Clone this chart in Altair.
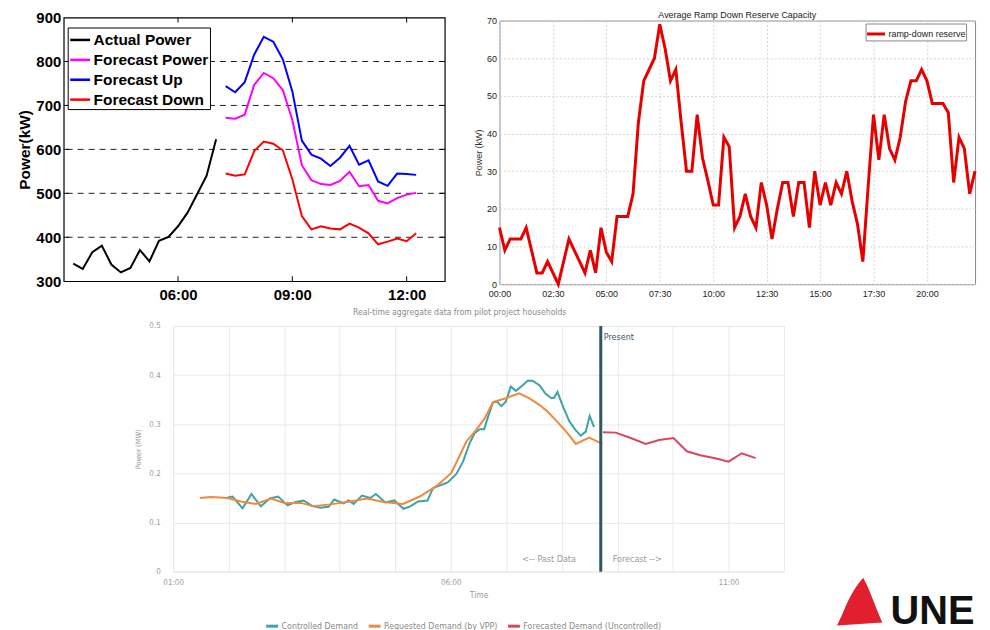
import altair as alt
import pandas as pd

TIME_EXPR = "(datum.value < 10 ? '0' : '') + floor(datum.value) + ':' + (datum.value % 1 == 0 ? '00' : '30')"
ARIAL = "Liberation Sans, Arial, sans-serif"
NARROW = "Liberation Sans Narrow, DejaVu Sans Condensed, sans-serif"


def hours(labels):
    out = []
    for s in labels:
        h, m = s.split(":")
        out.append(int(h) + int(m) / 60.0)
    return out


actual_times = ["03:15", "03:30", "03:45", "04:00", "04:15", "04:30", "04:45", "05:00",
                "05:15", "05:30", "05:45", "06:00", "06:15", "06:30", "06:45", "07:00"]
actual_kw = [340, 328, 366, 381, 338, 320, 330, 371, 345, 392, 401, 425, 456, 498, 540, 623]
forecast_times = ["07:15", "07:30", "07:45", "08:00", "08:15", "08:30", "08:45", "09:00",
                  "09:15", "09:30", "09:45", "10:00", "10:15", "10:30", "10:45", "11:00",
                  "11:15", "11:30", "11:45", "12:00", "12:15"]
forecast_kw = [672, 670, 679, 747, 774, 762, 735, 667, 564, 530, 521, 519, 528, 549, 516, 519,
               483, 477, 489, 497, 501]
forecast_up_kw = [744, 730, 753, 816, 856, 845, 805, 732, 620, 588, 579, 562, 581, 608, 565, 575,
                  527, 517, 545, 544, 542]
forecast_down_kw = [545, 540, 543, 596, 618, 613, 598, 532, 448, 418, 425, 420, 418, 431, 422, 409,
                    384, 390, 397, 391, 409]
a_series = ["Actual Power", "Forecast Power", "Forecast Up", "Forecast Down"]
a_colors = ["#000000", "#ff00ff", "#0000ff", "#ff0000"]
a_x_ticks = [6, 9, 12]
a_y_ticks = [300, 400, 500, 600, 700, 800, 900]
a_grid = [400, 500, 600, 700, 800]

b_title = "Average Ramp Down Reserve Capacity"
ramp_step_h = 0.25
ramp_kw = [15, 9, 12, 12, 12, 15, 9, 3, 3, 6,
           3, 0, 6, 12, 9, 6, 3, 9, 3, 15,
           8.5, 6, 18, 18, 18, 24, 43, 54, 57, 60,
           69, 62.5, 54, 57, 43, 30, 30, 45, 33.5, 27.5,
           21, 21, 39, 36.5, 15, 18, 24, 18, 15, 27,
           21, 12, 20, 27, 27, 18, 27, 27, 15, 30,
           21, 27, 21, 27, 24, 30, 22, 16, 6, 26,
           45, 33, 45, 36, 33, 39, 48.5, 54, 54, 57,
           54, 48, 48, 48, 45.5, 27, 39, 36, 24, 30]
b_x_ticks = [0, 2.5, 5, 7.5, 10, 12.5, 15, 17.5, 20]
b_y_ticks = [0, 10, 20, 30, 40, 50, 60, 70]

controlled_h = [1.98, 2.07, 2.25, 2.41, 2.58, 2.74, 2.89, 3.06, 3.21, 3.35, 3.50, 3.65, 3.80, 3.90,
                4.07, 4.16, 4.25, 4.40, 4.55, 4.65, 4.82, 4.98, 5.15, 5.27, 5.41, 5.58, 5.68, 5.86,
                5.95, 6.10, 6.22, 6.34, 6.43, 6.52, 6.60, 6.67, 6.76, 6.83, 6.91, 6.99, 7.08, 7.17,
                7.27, 7.39, 7.48, 7.60, 7.70, 7.81, 7.86, 7.92, 8.01, 8.13, 8.24, 8.34, 8.43, 8.50, 8.58]
controlled_mw = [0.151, 0.153, 0.129, 0.158, 0.133, 0.149, 0.153, 0.135, 0.142, 0.145, 0.134, 0.130,
                 0.132, 0.147, 0.139, 0.145, 0.138, 0.155, 0.150, 0.158, 0.141, 0.145, 0.128, 0.133,
                 0.143, 0.145, 0.170, 0.178, 0.182, 0.199, 0.224, 0.262, 0.282, 0.290, 0.290, 0.315,
                 0.345, 0.346, 0.337, 0.346, 0.377, 0.368, 0.377, 0.389, 0.388, 0.379, 0.363, 0.353,
                 0.354, 0.366, 0.339, 0.307, 0.289, 0.277, 0.285, 0.317, 0.294]
requested_h = [1.48, 1.68, 1.98, 2.22, 2.49, 2.76, 3.00, 3.30, 3.53, 3.83, 4.19, 4.49, 4.79, 5.14,
               5.44, 5.74, 6.01, 6.28, 6.46, 6.61, 6.76, 6.99, 7.23, 7.41, 7.60, 7.74, 7.92, 8.10,
               8.25, 8.49, 8.73]
requested_mw = [0.150, 0.152, 0.150, 0.143, 0.138, 0.149, 0.140, 0.140, 0.133, 0.137, 0.143, 0.149,
                0.142, 0.138, 0.153, 0.174, 0.201, 0.265, 0.289, 0.312, 0.345, 0.353, 0.363, 0.353,
                0.339, 0.326, 0.305, 0.282, 0.260, 0.273, 0.260]
forecasted_h = [8.74, 8.97, 9.24, 9.51, 9.75, 10.01, 10.25, 10.49, 10.76, 11.00, 11.24, 11.49]
forecasted_mw = [0.284, 0.283, 0.272, 0.260, 0.268, 0.272, 0.245, 0.237, 0.231, 0.224, 0.241, 0.231]
present_h = 8.70
c_series = ["Controlled Demand", "Requested Demand (by VPP)", "Forecasted Demand (Uncontrolled)"]
c_colors = ["#3da3a6", "#ee8a3d", "#d8475f"]
c_grid_x = [1 + 0.5 * i for i in range(23)]
c_y_ticks = [0, 0.1, 0.2, 0.3, 0.4, 0.5]

# =============== chart A ===============
a_df = pd.concat([
    pd.DataFrame({"hour": hours(actual_times), "kw": actual_kw, "sA": a_series[0]}),
    pd.DataFrame({"hour": hours(forecast_times), "kw": forecast_kw, "sA": a_series[1]}),
    pd.DataFrame({"hour": hours(forecast_times), "kw": forecast_up_kw, "sA": a_series[2]}),
    pd.DataFrame({"hour": hours(forecast_times), "kw": forecast_down_kw, "sA": a_series[3]}),
])
WA, HA = 383, 265
xA = alt.X("hour:Q", scale=alt.Scale(domain=[3, 13], nice=False, zero=False),
           axis=alt.Axis(values=a_x_ticks, labelExpr=TIME_EXPR, title=None, ticks=False, domain=False,
                         grid=False, labelFlush=False, labelFont=ARIAL, labelFontSize=15,
                         labelFontWeight="bold", labelColor="black", labelPadding=6))
yA = alt.Y("kw:Q", scale=alt.Scale(domain=[300, 900], nice=False, zero=False),
           axis=alt.Axis(values=a_y_ticks, title="Power(kW)", ticks=False, domain=False, grid=False,
                         labelFont=ARIAL, labelFontSize=15, labelFontWeight="bold", labelColor="black",
                         labelPadding=3, titleFont=ARIAL, titleFontSize=15.5, titleFontWeight="bold",
                         titleColor="black", titlePadding=3))
a_grid_layer = alt.Chart(pd.DataFrame({"kw": a_grid})).mark_rule(
    color="#222222", strokeWidth=1, strokeDash=[6, 5]).encode(y="kw:Q")
a_lines = alt.Chart(a_df).mark_line(strokeWidth=2).encode(
    x=xA, y=yA,
    color=alt.Color("sA:N", scale=alt.Scale(domain=a_series, range=a_colors),
                    legend=alt.Legend(title=None, orient="none", legendX=4, legendY=10,
                                      fillColor="white", strokeColor="black", padding=1,
                                      symbolType="stroke", symbolSize=400, symbolStrokeWidth=2.5,
                                      labelFont=ARIAL, labelFontSize=15.5, labelFontWeight="bold",
                                      labelColor="black", labelOffset=2, rowPadding=0)))
ax_df = pd.DataFrame({"hour": a_x_ticks})
ay_df = pd.DataFrame({"kw": a_grid})
a_tick_top = alt.Chart(ax_df).mark_rule(color="black").encode(x="hour:Q", y=alt.value(0), y2=alt.value(5))
a_tick_bot = alt.Chart(ax_df).mark_rule(color="black").encode(x="hour:Q", y=alt.value(HA), y2=alt.value(HA - 5))
a_tick_left = alt.Chart(ay_df).mark_rule(color="black").encode(y="kw:Q", x=alt.value(0), x2=alt.value(5))
a_tick_right = alt.Chart(ay_df).mark_rule(color="black").encode(y="kw:Q", x=alt.value(WA), x2=alt.value(WA - 5))
chart_a = alt.layer(a_grid_layer, a_tick_top, a_tick_bot, a_tick_left, a_tick_right, a_lines).properties(
    width=WA, height=HA, view=alt.ViewBackground(stroke="black", strokeWidth=1.2))

# =============== chart B ===============
b_df = pd.DataFrame({"hour": [i * ramp_step_h for i in range(len(ramp_kw))], "kw": ramp_kw,
                     "sB": "ramp-down reserve"})
WB, HB = 478, 265
chart_b = alt.Chart(b_df).mark_line(strokeWidth=3).encode(
    x=alt.X("hour:Q", scale=alt.Scale(domain=[0, 22.25], nice=False, zero=False),
            axis=alt.Axis(values=b_x_ticks, labelExpr=TIME_EXPR, title=None, ticks=False, domain=False,
                          grid=True, gridColor="#d4d4d4", gridDash=[2, 2], labelFlush=False,
                          labelFont=ARIAL, labelFontSize=9, labelColor="#222222", labelPadding=5)),
    y=alt.Y("kw:Q", scale=alt.Scale(domain=[0, 70], nice=False),
            axis=alt.Axis(values=b_y_ticks, title="Power (kW)", ticks=False, domain=False, grid=True,
                          gridColor="#d4d4d4", gridDash=[2, 2], labelFont=ARIAL, labelFontSize=9,
                          labelColor="#222222", labelPadding=3, titleFont=ARIAL, titleFontSize=9,
                          titleFontWeight="normal", titleColor="#333333", titlePadding=3)),
    color=alt.Color("sB:N", scale=alt.Scale(domain=["ramp-down reserve"], range=["#e60000"]),
                    legend=alt.Legend(title=None, orient="none", legendX=368, legendY=3,
                                      fillColor="white", strokeColor="#888888", padding=0,
                                      symbolType="stroke", symbolSize=324, symbolStrokeWidth=3,
                                      labelFont=ARIAL, labelFontSize=9, labelColor="#222222",
                                      labelOffset=2)),
).properties(width=WB, height=HB, view=alt.ViewBackground(stroke="#8a8a8a", strokeWidth=1))

# title strip above chart B (text drawn as a mark so it can sit higher than chart A's top)
b_title_strip = alt.Chart(pd.DataFrame({"t": [b_title]})).mark_text(
    font=ARIAL, fontSize=9, color="#222222", baseline="middle").encode(
    text="t:N", x=alt.value(WB / 2), y=alt.value(-3)).properties(
    width=WB, height=1, view=alt.ViewBackground(stroke="transparent"))
b_block = alt.vconcat(b_title_strip, chart_b, spacing=-7).resolve_scale(
    color="independent").resolve_legend(color="independent")

# =============== chart C ===============
c_df = pd.concat([
    pd.DataFrame({"hour": controlled_h, "mw": controlled_mw, "sC": c_series[0]}),
    pd.DataFrame({"hour": requested_h, "mw": requested_mw, "sC": c_series[1]}),
    pd.DataFrame({"hour": forecasted_h, "mw": forecasted_mw, "sC": c_series[2]}),
])
WC, HC = 614, 247
C_LABEL_EXPR = "((datum.value - 1) % 2.5 == 0) ? (" + TIME_EXPR + ") : ''"
xC = alt.X("hour:Q", scale=alt.Scale(domain=[1, 12], nice=False, zero=False),
           axis=alt.Axis(values=c_grid_x, labelExpr=C_LABEL_EXPR, title="Time", ticks=False, domain=False,
                         grid=True, gridColor="#e9e9e9", labelFlush=False, labelFont=NARROW,
                         labelFontSize=8, labelColor="#9a9a9a", labelPadding=7, titleFont=NARROW,
                         titleFontSize=8.5, titleFontWeight="normal", titleColor="#9a9a9a",
                         titlePadding=4))
yC = alt.Y("mw:Q", scale=alt.Scale(domain=[0, 0.5], nice=False),
           axis=alt.Axis(values=c_y_ticks, labelExpr="datum.value == 0 ? '0' : format(datum.value, '.1f')",
                         title="Power (MW)", ticks=False, domain=False, grid=True, gridColor="#e9e9e9",
                         labelFont=NARROW, labelFontSize=8, labelColor="#9a9a9a", labelPadding=13,
                         titleFont=NARROW, titleFontSize=7.5, titleFontWeight="normal",
                         titleColor="#9a9a9a", titlePadding=6))
c_lines = alt.Chart(c_df).mark_line(strokeWidth=2).encode(
    x=xC, y=yC,
    color=alt.Color("sC:N", scale=alt.Scale(domain=c_series, range=c_colors),
                    legend=alt.Legend(title=None, orient="none", legendX=92, legendY=294,
                                      direction="horizontal", symbolType="stroke", symbolSize=144,
                                      symbolStrokeWidth=3, labelFont=NARROW, labelFontSize=8.8,
                                      labelColor="#8a8a8a", labelOffset=2, columnPadding=4)))
p_df = pd.DataFrame({"hour": [present_h], "mw_top": [0.478], "mw_low": [0.026]})
c_present = alt.Chart(p_df).mark_rule(color="#2c5866", strokeWidth=3).encode(x="hour:Q")
c_present_txt = alt.Chart(p_df).mark_text(text="Present", align="left", dx=3, font=NARROW, fontSize=9,
                                          color="#3b5866").encode(x="hour:Q", y="mw_top:Q")
c_past_txt = alt.Chart(p_df).mark_text(text="<-- Past Data", align="right", dx=-25, font=NARROW,
                                       fontSize=9, color="#9a9a9a").encode(x="hour:Q", y="mw_low:Q")
c_fc_txt = alt.Chart(p_df).mark_text(text="Forecast -->", align="left", dx=12, font=NARROW,
                                     fontSize=9, color="#9a9a9a").encode(x="hour:Q", y="mw_low:Q")
# institution logo in the corner: red sail + "UNE"
SAIL = "M0.15,-1 C-0.45,-0.35 -0.65,0.45 -0.95,1 L0.95,0.88 C0.65,0.2 0.45,-0.45 0.15,-1 Z"
c_sail = alt.Chart(p_df).mark_point(shape=SAIL, filled=True, color="#e21f2f", opacity=1, size=2300).encode(
    x=alt.value(WC + 76), y=alt.value(HC + 30))
c_logo = alt.Chart(p_df).mark_text(text="UNE", align="left", baseline="middle", font=ARIAL, fontSize=40,
                                   fontWeight="bold", color="#111111").encode(
    x=alt.value(WC + 107), y=alt.value(HC + 41))

chart_c = alt.layer(c_lines, c_present, c_present_txt, c_past_txt, c_fc_txt, c_sail, c_logo).properties(
    width=WC, height=HC,
    title=alt.TitleParams("Real-time aggregate data from pilot project households", font=NARROW,
                          fontSize=8.6, fontWeight="normal", color="#8a8a8a", offset=5, dx=-19),
    view=alt.ViewBackground(stroke="#e3e3e3", strokeWidth=1))

spacer = alt.Chart(pd.DataFrame({"v": [0]})).mark_point(opacity=0).encode(
    x=alt.value(0), y=alt.value(0)).properties(width=50, height=5,
                                               view=alt.ViewBackground(stroke="transparent"))

top = alt.hconcat(chart_a, b_block, spacing=27).resolve_scale(
    color="independent").resolve_legend(color="independent")
bottom = alt.hconcat(spacer, chart_c, spacing=20).resolve_scale(color="independent").resolve_legend(color="independent")
chart = alt.vconcat(top, bottom, spacing=4).resolve_scale(
    color="independent", x="independent", y="independent").resolve_legend(color="independent").properties(
    padding={"left": 9, "top": 0, "right": 0, "bottom": 0}
).configure(background="white")

chart.save("out.html", embed_options={"renderer": "svg", "actions": False})
